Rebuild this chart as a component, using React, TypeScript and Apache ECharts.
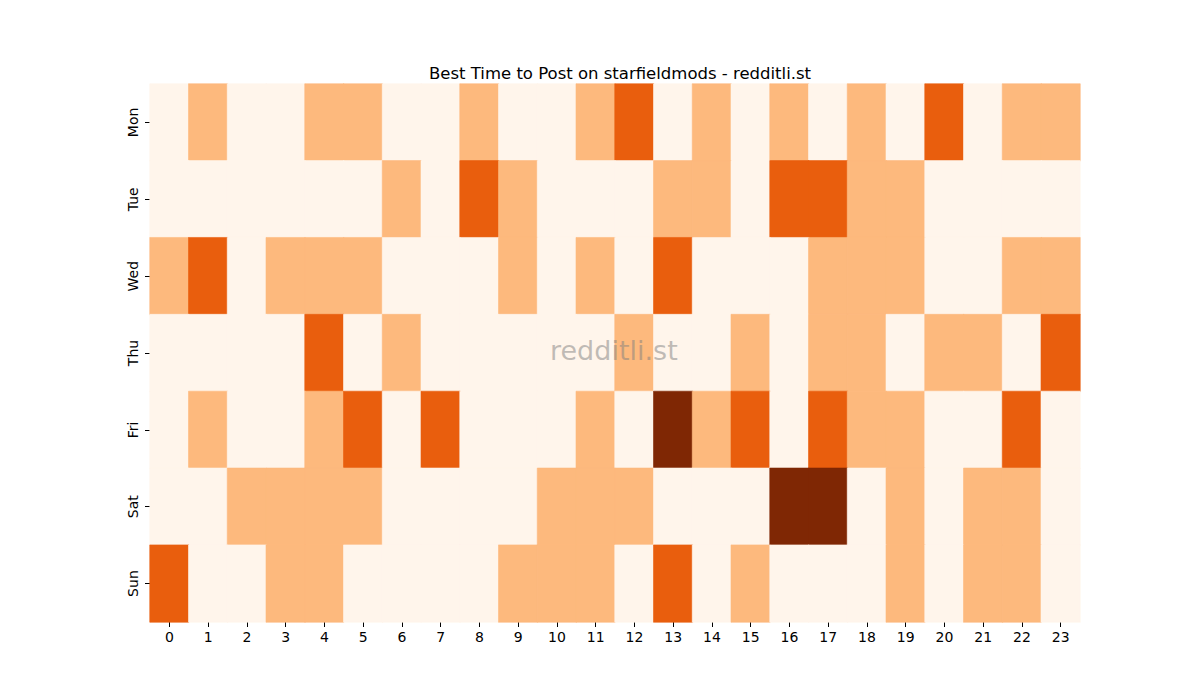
import { useEffect, useRef } from 'react';
import * as echarts from 'echarts';

const hours = ['0', '1', '2', '3', '4', '5', '6', '7', '8', '9', '10', '11', '12', '13', '14', '15', '16', '17', '18', '19', '20', '21', '22', '23'];
const days = ['Mon', 'Tue', 'Wed', 'Thu', 'Fri', 'Sat', 'Sun'];

// one row per day, one value per hour
const mon = [0, 1, 0, 0, 1, 1, 0, 0, 1, 0, 0, 1, 2, 0, 1, 0, 1, 0, 1, 0, 2, 0, 1, 1];
const tue = [0, 0, 0, 0, 0, 0, 1, 0, 2, 1, 0, 0, 0, 1, 1, 0, 2, 2, 1, 1, 0, 0, 0, 0];
const wed = [1, 2, 0, 1, 1, 1, 0, 0, 0, 1, 0, 1, 0, 2, 0, 0, 0, 1, 1, 1, 0, 0, 1, 1];
const thu = [0, 0, 0, 0, 2, 0, 1, 0, 0, 0, 0, 0, 1, 0, 0, 1, 0, 1, 1, 0, 1, 1, 0, 2];
const fri = [0, 1, 0, 0, 1, 2, 0, 2, 0, 0, 0, 1, 0, 3, 1, 2, 0, 2, 1, 1, 0, 0, 2, 0];
const sat = [0, 0, 1, 1, 1, 1, 0, 0, 0, 0, 1, 1, 1, 0, 0, 0, 3, 3, 0, 1, 0, 1, 1, 0];
const sun = [2, 0, 0, 1, 1, 0, 0, 0, 0, 1, 1, 1, 0, 2, 0, 1, 0, 0, 0, 1, 0, 1, 1, 0];

const rows = [mon, tue, wed, thu, fri, sat, sun];

// Oranges colormap steps for values 0..3
const levelColors = ['#fff5eb', '#fdb97d', '#e95e0d', '#7f2704'];

const FONT = '"DejaVu Sans", sans-serif';

const ChartComponent = () => {
  const chartDom = useRef<HTMLDivElement | null>(null);

  useEffect(() => {
    document.body.style.margin = '0';
    if (chartDom.current) {
      const myChart = echarts.init(chartDom.current, undefined, { renderer: 'svg' });
      const data: any[] = [];
      rows.forEach((row, y) =>
        row.forEach((v, x) =>
          // border in the cell's own colour hides the anti-aliasing seams
          data.push({ value: [x, y, v], itemStyle: { borderColor: levelColors[v], borderWidth: 0.6 } })
        )
      );

      const option = {
        animation: false,
        backgroundColor: '#ffffff',
        textStyle: { fontFamily: FONT },
        title: {
          text: 'Best Time to Post on starfieldmods - redditli.st',
          left: 615,
          top: 60,
          textAlign: 'center',
          textStyle: { fontSize: 16.5, fontWeight: 'normal', color: '#000', fontFamily: FONT }
        },
        grid: { left: 150, top: 84, width: 930, height: 538 },
        xAxis: {
          type: 'category',
          data: hours,
          axisLine: { show: false },
          axisTick: { show: true, alignWithLabel: true, length: 5, lineStyle: { color: '#000' } },
          axisLabel: { color: '#000', fontSize: 14, margin: 8, fontFamily: FONT },
          splitLine: { show: false }
        },
        yAxis: {
          type: 'category',
          data: days,
          inverse: true,
          axisLine: { show: false },
          axisTick: { show: true, alignWithLabel: true, length: 5, lineStyle: { color: '#000' } },
          axisLabel: { color: '#000', fontSize: 14, rotate: 90, margin: 10, fontFamily: FONT },
          splitLine: { show: false }
        },
        visualMap: {
          show: false,
          type: 'piecewise',
          dimension: 2,
          pieces: levelColors.map((c, i) => ({ value: i, color: c }))
        },
        graphic: [
          {
            type: 'text',
            left: 550,
            top: 337,
            style: {
              text: 'redditli.st',
              fontSize: 27,
              fontFamily: FONT,
              fill: 'rgba(128,128,128,0.5)'
            },
            z: 100
          }
        ],
        series: [
          {
            type: 'heatmap',
            data: data,
            emphasis: { disabled: true }
          }
        ]
      };

      myChart.setOption(option);

      return () => {
        myChart.dispose();
      };
    }
  }, []);

  return <div ref={chartDom} style={{ width: 1200, height: 700 }} />;
};

export default ChartComponent;
